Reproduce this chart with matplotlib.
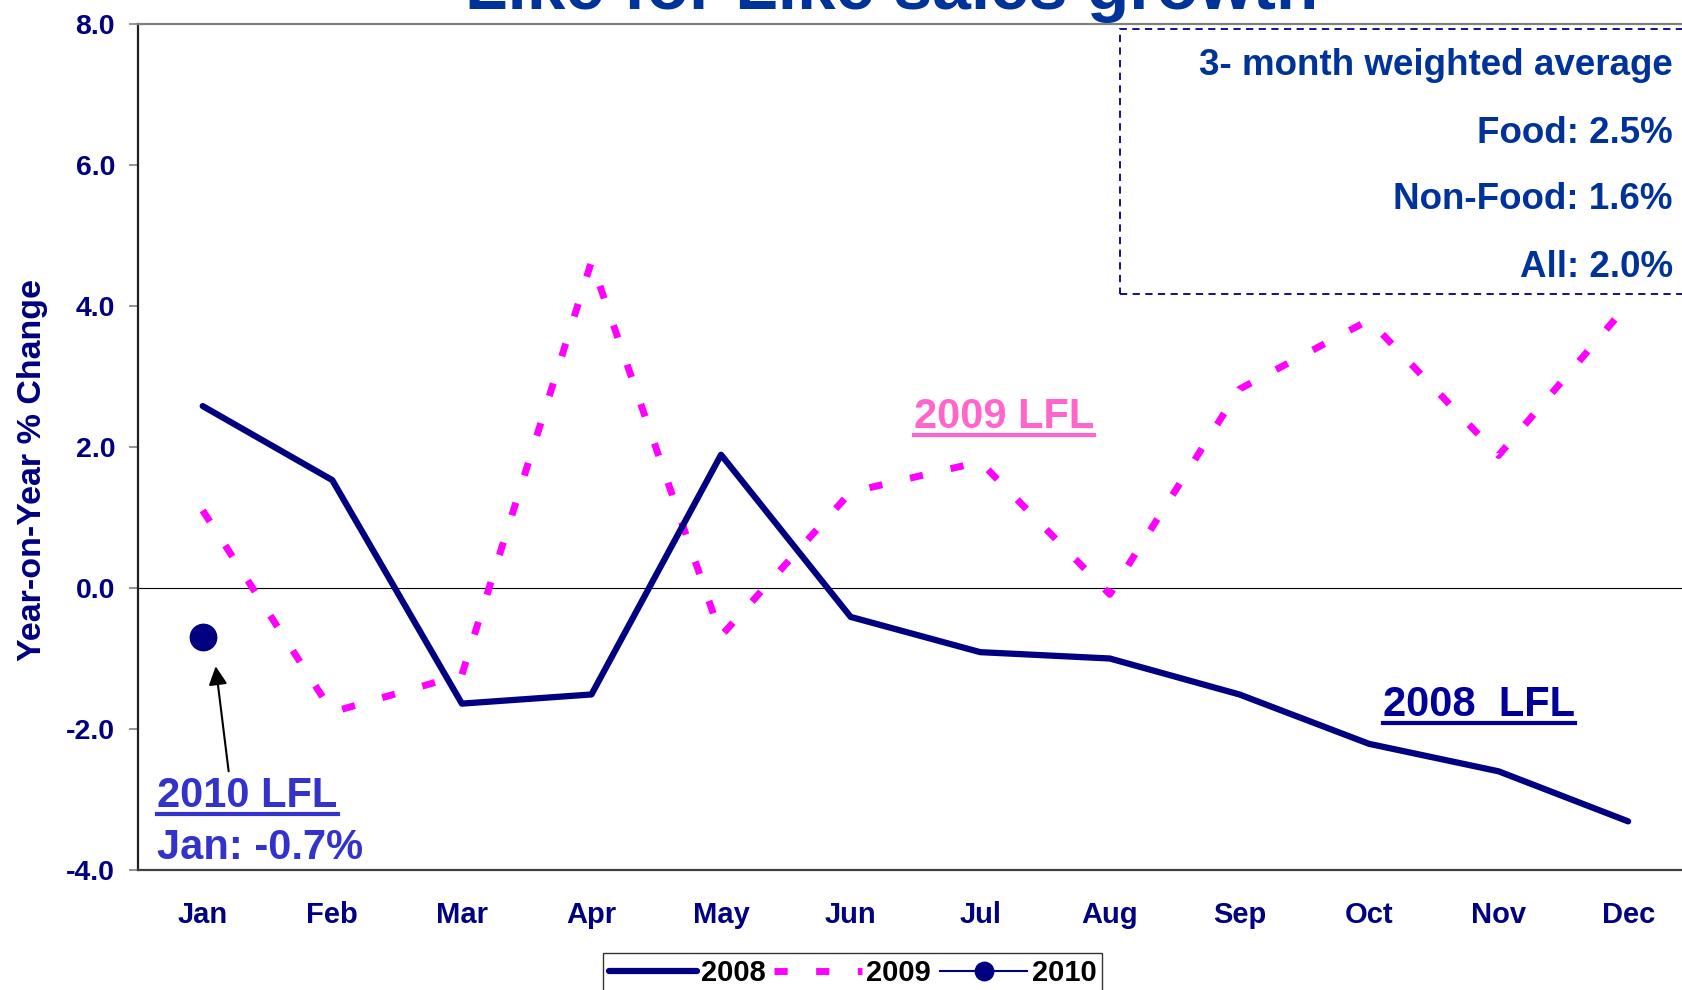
import matplotlib
matplotlib.use('Agg')
import matplotlib.pyplot as plt
from matplotlib.lines import Line2D
from matplotlib.patches import Rectangle

months = ['Jan', 'Feb', 'Mar', 'Apr', 'May', 'Jun',
          'Jul', 'Aug', 'Sep', 'Oct', 'Nov', 'Dec']
lfl_2008 = [2.58, 1.53, -1.64, -1.51, 1.89, -0.41, -0.91, -1.0, -1.51, -2.21, -2.6, -3.31]
lfl_2009 = [1.1, -1.76, -1.23, 4.63, -0.68, 1.36, 1.79, -0.09, 2.82, 3.8, 1.88, 4.03]
lfl_2010 = [-0.7]
yticks = [-4.0, -2.0, 0.0, 2.0, 4.0, 6.0, 8.0]
box_lines = ['3- month weighted average', 'Food: 2.5%', 'Non-Food: 1.6%', 'All: 2.0%']

NAVY = '#000080'
TITLE_BLUE = '#003399'

plt.rcParams['font.family'] = ['Liberation Sans', 'DejaVu Sans']
plt.rcParams['font.weight'] = 'bold'

fig = plt.figure(figsize=(16.82, 9.9), dpi=100)
ax = fig.add_axes([0.082, 0.1212, 0.9245, 0.8546])

x = list(range(len(months)))
ax.axhline(0, color='black', lw=0.8, zorder=1)
ax.plot(x, lfl_2008, color=NAVY, lw=4.5, solid_capstyle='round',
        solid_joinstyle='round', label='2008', zorder=3)
ax.plot(x, lfl_2009, color='#FF00FF', lw=5, dashes=(1.9, 4.1),
        dash_capstyle='butt', label='2009', zorder=2)
ax.plot(x[:len(lfl_2010)], lfl_2010, color=NAVY, lw=1.5, marker='o',
        markersize=19, label='2010', zorder=4)

ax.set_xlim(-0.5, 11.5)
ax.set_ylim(-4, 8)
ax.set_xticks(x)
ax.set_xticklabels(months)
ax.set_yticks(yticks)
ax.set_yticklabels(['%.1f' % t for t in yticks])
ax.tick_params(axis='x', length=0, pad=22, labelsize=21, labelcolor=NAVY)
ax.tick_params(axis='y', length=6.5, width=1.2, color='#808080', pad=10,
               labelsize=20.5, labelcolor=NAVY)
ax.spines['top'].set_color('#808080')
ax.spines['top'].set_linewidth(1.6)
ax.spines['bottom'].set_color('#404040')
ax.spines['bottom'].set_linewidth(1.6)
ax.spines['left'].set_color('#202020')
ax.spines['left'].set_linewidth(1.6)
ax.spines['right'].set_visible(False)

fig.text(0.0196, 0.525, 'Year-on-Year % Change', rotation=90, ha='center',
         va='center', fontsize=24.5, color=NAVY)

# title, mostly above the visible canvas
fig.text(0.53, 0.991, 'Like for Like sales growth', ha='center', va='baseline',
         fontsize=50, color=TITLE_BLUE)

# annotations
t2009 = ax.text(5.49, 2.27, '2009 LFL', fontsize=30, color='#FF66CC', va='baseline')
t2008 = ax.text(9.11, -1.82, '2008  LFL', fontsize=30, color='#000099', va='baseline')
t2010 = ax.text(-0.35, -3.10, '2010 LFL', fontsize=30, color='#3333CC', va='baseline')
ax.text(-0.35, -3.84, 'Jan: -0.7%', fontsize=30, color='#3333CC', va='baseline')
ax.annotate('', xy=(0.10, -1.11), xytext=(0.2, -2.6),
            arrowprops=dict(arrowstyle='-|>', color='black', lw=1.5,
                            mutation_scale=28, shrinkA=0, shrinkB=0))

# info box
box = Rectangle((0.666, 0.703), 0.4, 0.268, transform=fig.transFigure,
                fill=False, edgecolor=NAVY, lw=1.3, linestyle=(0, (4, 3)))
fig.patches.append(box)
for line, yb in zip(box_lines, [0.924, 0.856, 0.789, 0.720]):
    fig.text(0.9946, yb, line, ha='right', va='baseline', fontsize=26.5,
             color=TITLE_BLUE)

leg = fig.legend(loc='upper center', bbox_to_anchor=(0.507, 0.052), ncol=3,
                 fontsize=21, handlelength=3.0, handletextpad=0.15,
                 columnspacing=0.3, borderpad=0.2, markerscale=0.7,
                 fancybox=False, frameon=True)
leg.get_frame().set_edgecolor('black')
leg.get_frame().set_linewidth(1.0)

# underline the series labels
fig.canvas.draw()
inv = fig.transFigure.inverted()
for t in (t2009, t2008, t2010):
    bb = t.get_window_extent()
    base = ax.transData.transform(t.get_position())[1]
    yu = base - 7
    p0 = inv.transform((bb.x0, yu))
    p1 = inv.transform((bb.x1, yu))
    fig.add_artist(Line2D([p0[0], p1[0]], [p0[1], p1[1]],
                          transform=fig.transFigure, color=t.get_color(), lw=3))

fig.savefig('out.png', dpi=100)
